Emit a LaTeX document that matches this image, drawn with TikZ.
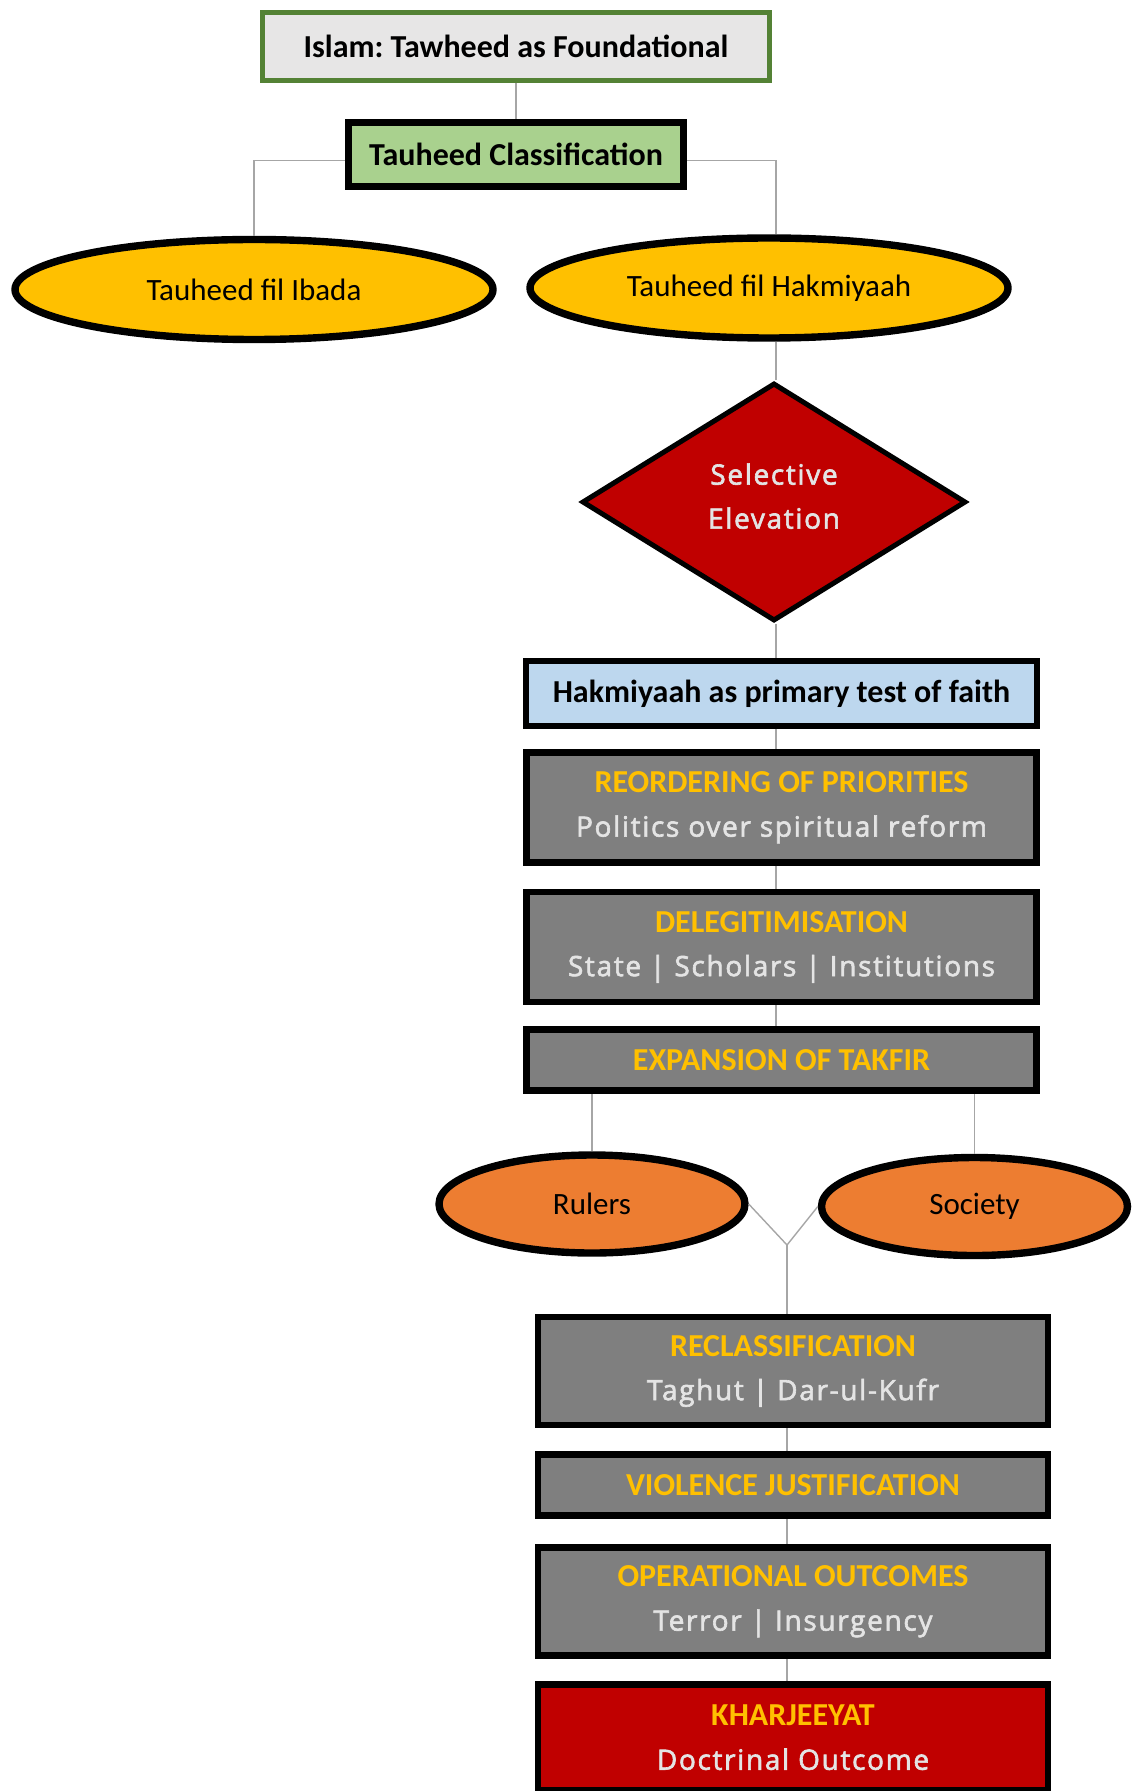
\documentclass[tikz,border=0pt]{standalone}
\usepackage{fontspec}
\setmainfont{Carlito}
\newfontfamily\opensans[LetterSpace=6.0,FakeBold=2.2]{Open Sans}
\usepackage{xcolor}
\usepackage{tikz}
\usetikzlibrary{shapes,positioning,calc}
\frenchspacing
\definecolor{frameGreen}{HTML}{548235}
\definecolor{paleGray}{HTML}{E7E6E6}
\definecolor{leafGreen}{HTML}{A9D18E}
\definecolor{gold}{HTML}{FFC000}
\definecolor{deepRed}{HTML}{C00000}
\definecolor{skyBlue}{HTML}{BDD7EE}
\definecolor{midGray}{HTML}{7F7F7F}
\definecolor{burnt}{HTML}{ED7D31}
\definecolor{wire}{HTML}{A6A6A6}
\definecolor{softWhite}{HTML}{E4E4E4}
\newcommand{\headfont}{\normalfont\bfseries\fontsize{16}{19}\selectfont}
\newcommand{\subfont}{\opensans\fontsize{14}{22}\selectfont}
\newcommand{\stagehead}[1]{{\headfont\color{gold}#1}}
\tikzstyle{titlebox} = [draw=frameGreen, rectangle, line width=2.5pt, fill=paleGray,
    minimum width=253.5pt, minimum height=34pt, font=\headfont]
\tikzstyle{classbox} = [draw, rectangle, line width=3.5pt, fill=leafGreen,
    minimum width=167.5pt, minimum height=32pt, font=\headfont]
\tikzstyle{branch} = [draw, ellipse, line width=3.7pt, fill=gold,
    minimum width=239pt, minimum height=50pt, font=\fontsize{15.5}{18}\selectfont]
\tikzstyle{decision} = [draw, diamond, line width=2.5pt, fill=deepRed, inner sep=0pt,
    minimum width=192pt, minimum height=119pt, text=softWhite, align=center, font=\subfont]
\tikzstyle{testbox} = [draw, rectangle, line width=2.8pt, fill=skyBlue,
    minimum width=255.5pt, minimum height=32.5pt, font=\headfont]
\tikzstyle{stage} = [draw, rectangle, line width=3.3pt, fill=midGray, minimum width=255pt,
    minimum height=30.7pt, text=softWhite, align=center, font=\subfont]
\tikzstyle{target} = [draw, ellipse, line width=3.7pt, fill=burnt,
    minimum width=153pt, minimum height=49pt, font=\fontsize{15.5}{18}\selectfont]
\tikzstyle{link} = [draw=wire, line width=0.7pt]
\begin{document}
\begin{tikzpicture}[x=0.5pt,y=-0.5pt]
		\useasboundingbox (0,0) rectangle (1132,1791);

		\node[titlebox] (islam) at (516,46.5) {Islam: Tawheed as Foundational};
		\node[classbox] (cls) at (516,154.5) {Tauheed Classification};
		\node[branch] (ibada) at (254,289.5) {Tauheed fil Ibada};
		\node[branch] (hakm) at (769,288) {Tauheed fil Hakmiyaah};
		\node[decision] (sel) at (774,502) {Selective\\Elevation\rule[-6pt]{0pt}{0pt}};
		\node[testbox] (test) at (781.5,693.5) {Hakmiyaah as primary test of faith};
		\node[stage, minimum height=55pt] (reorder) at (781.5,807.5)
			{\stagehead{REORDERING OF PRIORITIES}\\Politics over spiritual reform};
		\node[stage, minimum height=55pt] (deleg) at (781.5,947)
			{\stagehead{DELEGITIMISATION}\\State | Scholars | Institutions};
		\node[stage] (takfir) at (781.5,1060) {\stagehead{EXPANSION OF TAKFIR}};
		\node[target] (rulers) at (592,1204) {Rulers};
		\node[target] (society) at (974.5,1206.5) {Society};
		\node[stage, minimum height=54pt] (reclass) at (793,1371)
			{\stagehead{RECLASSIFICATION}\\Taghut | Dar-ul-Kufr};
		\node[stage] (violence) at (793,1485) {\stagehead{VIOLENCE JUSTIFICATION}};
		\node[stage, minimum height=54pt] (ops) at (793,1601.5)
			{\stagehead{OPERATIONAL OUTCOMES}\\Terror | Insurgency};
		\node[stage, fill=deepRed, minimum height=53pt] (kharj) at (793,1737.5)
			{\stagehead{KHARJEEYAT}\\Doctrinal Outcome};
		\coordinate (spine) at (776,0);
		\coordinate (join) at (787,1245);

		\draw[link] (islam) to (cls);
		\draw[link] ([yshift=-3pt]cls.west) -| (ibada.north);
		\draw[link] ([yshift=-3pt]cls.east) -| (hakm.north -| spine);
		\draw[link] (hakm.south -| spine) to (sel.north -| spine);
		\draw[link] (sel.south -| spine) to (test.north -| spine);
		\draw[link] (test.south -| spine) to (reorder.north -| spine);
		\draw[link] (reorder.south -| spine) to (deleg.north -| spine);
		\draw[link] (deleg.south -| spine) to (takfir.north -| spine);
		\draw[link] (takfir.south -| rulers.north) to (rulers.north);
		\draw[link] (takfir.south -| society.north) to (society.north);
		\draw[link] (rulers.east) to (join) to (society.west);
		\draw[link] (join) to (reclass.north -| join);
		\draw[link] (reclass.south -| join) to (violence.north -| join);
		\draw[link] (violence.south -| join) to (ops.north -| join);
		\draw[link] (ops.south -| join) to (kharj.north -| join);
	\end{tikzpicture}
\end{document}
